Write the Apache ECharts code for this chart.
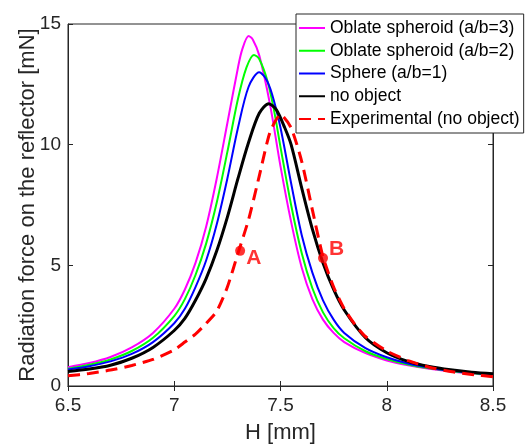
<!DOCTYPE html>
<html><head><meta charset="utf-8">
<script src="https://cdn.jsdelivr.net/npm/echarts@6/dist/echarts.min.js"></script>
<style>html,body{margin:0;padding:0;background:#fff}#c{width:526px;height:444px}</style>
</head><body><div id="c"></div>
<script>
// Data
const seriesNames = ['Oblate spheroid (a/b=3)', 'Oblate spheroid (a/b=2)', 'Sphere (a/b=1)', 'no object', 'Experimental (no object)'];
const xTicks = [6.5, 7, 7.5, 8, 8.5];
const yTicks = [0, 5, 10, 15];

const hMag = [6.5,6.6,6.7,6.8,6.9,7.0,7.05,7.1,7.15,7.2,7.25,7.3,7.32,7.35,7.37,7.4,7.45,7.5,7.55,7.6,7.65,7.7,7.75,7.8,7.9,8.0,8.1,8.2,8.3,8.4,8.5];
const fMag = [0.78,0.95,1.2,1.6,2.2,3.2,4.0,5.1,6.6,8.6,10.9,13.2,13.95,14.5,14.35,13.7,11.7,9.1,6.8,4.9,3.6,2.75,2.2,1.82,1.36,1.06,0.86,0.71,0.6,0.52,0.45];

const hGrn = [6.5,6.6,6.7,6.8,6.9,7.0,7.05,7.1,7.15,7.2,7.25,7.3,7.34,7.375,7.4,7.44,7.47,7.5,7.55,7.6,7.65,7.7,7.75,7.8,7.9,8.0,8.1,8.2,8.3,8.4,8.5];
const fGrn = [0.72,0.88,1.1,1.45,2.0,2.9,3.6,4.6,5.9,7.6,9.7,11.9,13.2,13.72,13.55,12.6,11.4,9.9,7.5,5.5,4.05,3.05,2.4,1.98,1.44,1.12,0.89,0.73,0.62,0.53,0.47];

const hBlu = [6.5,6.6,6.7,6.8,6.9,7.0,7.05,7.1,7.15,7.2,7.25,7.3,7.35,7.4,7.43,7.46,7.5,7.55,7.6,7.65,7.7,7.75,7.8,7.9,8.0,8.1,8.2,8.3,8.4,8.5];
const fBlu = [0.68,0.82,1.02,1.33,1.82,2.6,3.2,4.1,5.2,6.7,8.6,10.7,12.4,13.0,12.75,12.1,10.7,8.4,6.25,4.7,3.55,2.75,2.2,1.57,1.19,0.93,0.76,0.64,0.55,0.49];

const hBlk = [6.5,6.6,6.7,6.8,6.9,7.0,7.05,7.1,7.15,7.2,7.25,7.3,7.35,7.4,7.445,7.48,7.52,7.55,7.6,7.65,7.7,7.75,7.8,7.9,8.0,8.1,8.2,8.3,8.4,8.5];
const fBlk = [0.6,0.7,0.86,1.15,1.6,2.3,2.8,3.55,4.45,5.6,7.0,8.6,10.1,11.3,11.7,11.45,10.7,10.0,8.2,6.5,5.1,4.0,3.15,2.0,1.38,1.02,0.81,0.67,0.57,0.51];

const hExp = [6.5,6.6,6.7,6.8,6.9,7.0,7.05,7.1,7.14,7.2,7.25,7.3,7.35,7.4,7.45,7.5,7.55,7.6,7.65,7.7,7.75,7.8,7.85,7.9,8.0,8.1,8.2,8.3,8.4,8.5];
const fExp = [0.42,0.52,0.66,0.85,1.1,1.5,1.82,2.15,2.5,3.1,4.1,5.5,6.9,8.7,10.5,11.25,10.7,9.3,7.3,5.35,4.1,3.2,2.55,2.05,1.45,1.05,0.78,0.6,0.48,0.38];

const markLabels = ['A', 'B'];
const markH = [7.31, 7.7];
const markF = [5.6, 5.3];

const zip = (xs, ys) => xs.map((x, i) => [x, ys[i]]);
const FONT = 'Liberation Sans, Arial, Helvetica, sans-serif';
const TXT = '#262626';

const chart = echarts.init(document.getElementById('c'), null, {renderer: 'canvas'});
const axisCommon = {
  type: 'value',
  axisLine: {show: true, lineStyle: {color: TXT, width: 1}},
  axisTick: {show: true, inside: true, length: 5, lineStyle: {color: TXT}},
  splitLine: {show: false},
  nameMoveOverlap: false
};
chart.setOption({
  animation: false,
  backgroundColor: '#fff',
  grid: {left: 68, right: 33, top: 24, bottom: 58, show: true, borderColor: TXT, borderWidth: 1,
         containLabel: false, outerBoundsMode: 'none'},
  xAxis: [
    Object.assign({}, axisCommon, {
      min: xTicks[0], max: xTicks[xTicks.length - 1], interval: 0.5, position: 'bottom',
      name: 'H [mm]', nameLocation: 'middle', nameGap: 36,
      nameTextStyle: {fontFamily: FONT, fontSize: 22, color: TXT},
      axisLabel: {fontFamily: FONT, fontSize: 19, color: TXT, margin: 10, formatter: v => String(v)}
    }),
    Object.assign({}, axisCommon, {
      min: xTicks[0], max: xTicks[xTicks.length - 1], interval: 0.5, position: 'top',
      axisLabel: {show: false}
    })
  ],
  yAxis: [
    Object.assign({}, axisCommon, {
      min: yTicks[0], max: yTicks[yTicks.length - 1], interval: 5, position: 'left',
      name: 'Radiation force on the reflector [mN]', nameLocation: 'middle', nameGap: 29,
      nameTextStyle: {fontFamily: FONT, fontSize: 22, color: TXT},
      axisLabel: {fontFamily: FONT, fontSize: 19, color: TXT, margin: 7}
    }),
    Object.assign({}, axisCommon, {
      min: yTicks[0], max: yTicks[yTicks.length - 1], interval: 5, position: 'right',
      axisLabel: {show: false}
    })
  ],
  legend: {
    data: seriesNames,
    orient: 'vertical', left: 296, top: 14,
    backgroundColor: '#fff', borderColor: TXT, borderWidth: 1,
    padding: [3, 4, 3, 2],
    itemWidth: 26, itemHeight: 10, itemGap: 0.75,
    itemStyle: {opacity: 0},
    textStyle: {fontFamily: FONT, fontSize: 17.5, color: '#000', lineHeight: 22}
  },
  series: [
    {name: seriesNames[0], type: 'line', smooth: 0.3, symbol: 'none', data: zip(hMag, fMag), lineStyle: {color: '#ff00ff', width: 2}, itemStyle: {color: '#ff00ff'}},
    {name: seriesNames[1], type: 'line', smooth: 0.3, symbol: 'none', data: zip(hGrn, fGrn), lineStyle: {color: '#00ff00', width: 2}, itemStyle: {color: '#00ff00'}},
    {name: seriesNames[2], type: 'line', smooth: 0.3, symbol: 'none', data: zip(hBlu, fBlu), lineStyle: {color: '#0000ff', width: 2}, itemStyle: {color: '#0000ff'}},
    {name: seriesNames[3], type: 'line', smooth: 0.3, symbol: 'none', data: zip(hBlk, fBlk), lineStyle: {color: '#000000', width: 3}, itemStyle: {color: '#000000'}},
    {name: seriesNames[4], type: 'line', smooth: 0.2, symbol: 'none', data: zip(hExp, fExp), lineStyle: {color: '#ff0000', width: 3, type: [12, 7]}, itemStyle: {color: '#ff0000'}},
    {name: 'points', type: 'scatter', symbol: 'circle', symbolSize: 10, itemStyle: {color: '#ff0000'}, z: 5,
      data: markH.map((h, i) => ({value: [h, markF[i]], label: {show: true, formatter: markLabels[i], position: 'right', distance: 1,
        offset: i === 0 ? [0, 7] : [0, -9], fontFamily: FONT, fontSize: 21, fontWeight: 'bold', color: '#ff0000'}}))}
  ]
});
</script>
</body></html>
